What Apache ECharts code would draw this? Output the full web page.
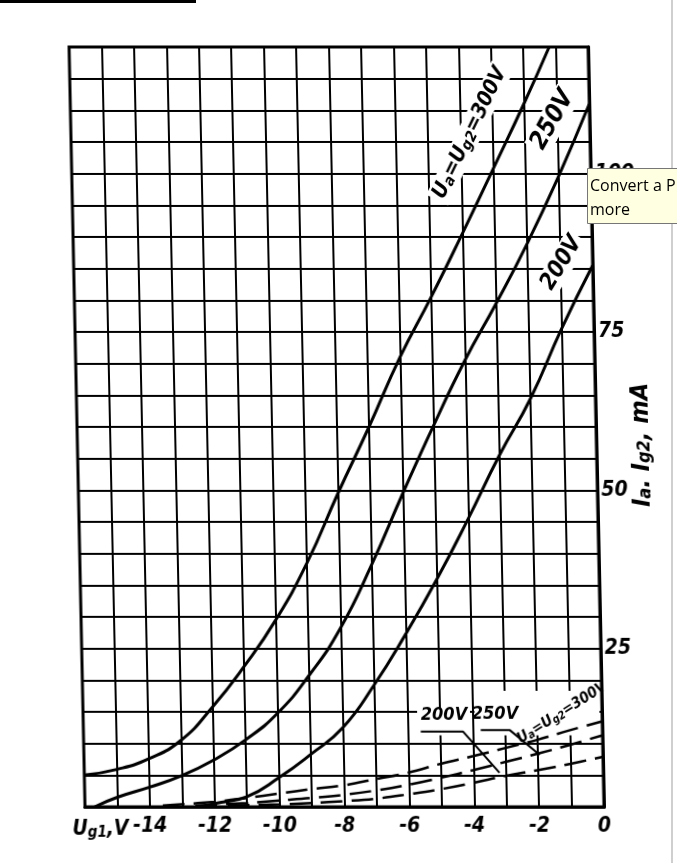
<!DOCTYPE html>
<html><head><meta charset="utf-8">
<script src="https://cdn.jsdelivr.net/npm/echarts@6/dist/echarts.min.js"></script>
<style>
html,body{margin:0;padding:0;background:#fff;overflow:hidden;}
#chart{position:absolute;left:0;top:0;width:677px;height:863px;transform:skewX(1.2deg);transform-origin:0 807px;}
#overlay{position:absolute;left:0;top:0;width:677px;height:863px;pointer-events:none;}
</style></head><body>
<div id="chart"></div><div id="overlay"></div>
<script>
// ---- data (Ug1 in V, current in mA) ----
const xTickLabels = [-14, -12, -10, -8, -6, -4, -2, 0];
const yTickLabels = [25, 50, 75, 100];

// anode current Ia, Ua = Ug2 = 300 V / 250 V / 200 V
const ia300 = [[-16,5.0],[-15,5.9],[-14,7.6],[-13,10.5],[-12,15.8],[-11,22.2],[-10,29.5],[-9,38.5],[-8,49.5],[-7,60],[-6,71],[-5,80.5],[-4,90.5],[-3,100.8],[-2,111.2],[-1.2,120]];
const ia250 = [[-15.7,0],[-15,1.5],[-14,3.1],[-13,4.9],[-12,7.4],[-11,10.6],[-10,14.8],[-9,20.8],[-8,28.3],[-7,38.3],[-6,49.5],[-5,60.3],[-4,70.5],[-3,79.5],[-2,89],[-1,99.5],[0,111]];
const ia200 = [[-12.4,0],[-12,0.5],[-11,1.6],[-10,4.6],[-9,8.3],[-8,12.5],[-7,19.3],[-6,27.3],[-5,36],[-4,45.5],[-3,55.5],[-2,64.5],[-1,75.5],[0,85.5]];

// screen current Ig2 (dashed)
const ig300 = [[-13.6,0.2],[-12,0.8],[-11,1.4],[-10,2.1],[-9,2.8],[-8,3.4],[-7,4.4],[-6,5.4],[-5,6.8],[-4,8.0],[-3,9.3],[-2,10.6],[-1,12.1],[0,13.5]];
const ig250 = [[-12.6,0.2],[-11,0.6],[-10,1.0],[-9,1.4],[-8,1.9],[-7,2.6],[-6,3.5],[-5,4.6],[-4,5.8],[-3,7.1],[-2,8.4],[-1,9.8],[0,11.3]];
const ig200 = [[-11.6,0.2],[-10,0.4],[-9,0.6],[-8,0.9],[-7,1.3],[-6,2.0],[-5,2.8],[-4,3.8],[-3,4.9],[-2,5.8],[-1,6.8],[0,7.9]];

// leader lines of the Ig2 labels
const lead200 = [[-5.6,11.9],[-4.3,11.9],[-3.2,5.4]];
const lead250 = [[-3.75,12.1],[-2.85,12.1],[-1.95,8.2]];

const F = "'Liberation Sans Narrow','DejaVu Sans Condensed','Liberation Sans',sans-serif";
const lab = {color:'#000', fontFamily:F, fontStyle:'italic', fontWeight:'bold'};

function solid(name, data){
  return {name, type:'line', data, symbol:'none', smooth:0.5, z:3,
    lineStyle:{color:'#000', width:3}};
}
function dashed(name, data){
  return {name, type:'line', data, symbol:'none', smooth:0.4, z:3,
    lineStyle:{color:'#000', width:2.5, type:[22,9]}};
}
function leader(name, data){
  return {name, type:'line', data, symbol:'none', z:3, lineStyle:{color:'#000', width:2}};
}

const chart = echarts.init(document.getElementById('chart'), null, {renderer:'canvas'});
chart.setOption({
  animation:false,
  backgroundColor:'transparent',
  grid:{left:85, right:73, top:47, bottom:56, show:true, borderColor:'#000', borderWidth:3},
  xAxis:{type:'value', min:-16, max:0, interval:1,
    axisLine:{show:true, lineStyle:{color:'#000', width:3}},
    axisTick:{show:false},
    splitLine:{show:true, lineStyle:{color:'#000', width:2}},
    axisLabel:Object.assign({fontSize:21, margin:9,
      formatter:v => xTickLabels.includes(v) ? (v < 0 ? '-' + Math.abs(v) : String(v)) : ''}, lab)
  },
  yAxis:{type:'value', position:'right', min:0, max:120, interval:5,
    axisLine:{show:true, lineStyle:{color:'#000', width:3}},
    axisTick:{show:false},
    splitLine:{show:true, lineStyle:{color:'#000', width:2}},
    axisLabel:Object.assign({fontSize:21, margin:4, padding:[0,0,14,0],
      formatter:v => yTickLabels.includes(v) ? String(v) : ''}, lab)
  },
  series:[
    solid('Ia 300V', ia300), solid('Ia 250V', ia250), solid('Ia 200V', ia200),
    dashed('Ig2 300V', ig300), dashed('Ig2 250V', ig250), dashed('Ig2 200V', ig200),
    leader('lead 200V', lead200), leader('lead 250V', lead250)
  ]
});

const toPx = p => chart.convertToPixel({gridIndex:0}, p);
const a1 = toPx([-5.7, 15.4]), b1 = toPx([-4.07, 11.3]);
const a2 = toPx([-3.93, 18.3]), b2 = toPx([-0.08, 11.3]);
const deg = Math.PI/180;
const sub = {fontSize:15, fontFamily:F, fontStyle:'italic', fontWeight:'bold', fill:'#000', padding:[7,0,0,0]};
const main = {fontSize:21, fontFamily:F, fontStyle:'italic', fontWeight:'bold', fill:'#000'};

chart.setOption({graphic:[
  {type:'rect', id:'erase1', z:1, shape:{x:a1[0], y:a1[1], width:b1[0]-a1[0], height:b1[1]-a1[1]}, style:{fill:'#fff'}},
  {type:'rect', id:'erase2', z:1, shape:{x:a2[0], y:a2[1], width:b2[0]-a2[0], height:b2[1]-a2[1]}, style:{fill:'#fff'}},
  {type:'text', id:'t300', z:10, x:484, y:133, rotation:63*deg,
    style:{text:'{m|U}{s|a}{m|=U}{s|g2}{m|=300V}', rich:{m:main, s:sub}, align:'center', verticalAlign:'middle',
      backgroundColor:'#fff', padding:[1,3,1,3]}},
  {type:'text', id:'t250', z:10, x:567, y:120, rotation:60*deg,
    style:Object.assign({text:'250V', align:'center', verticalAlign:'middle', backgroundColor:'#fff', padding:[1,2,1,2]}, main, {fontSize:25})},
  {type:'text', id:'t200', z:10, x:573, y:263, rotation:58*deg,
    style:Object.assign({text:'200V', align:'center', verticalAlign:'middle', backgroundColor:'#fff', padding:[1,2,1,2]}, main, {fontSize:23})},
  {type:'text', id:'b200', z:10, x:446, y:715,
    style:Object.assign({text:'200V', align:'center', verticalAlign:'middle'}, main, {fontSize:18})},
  {type:'text', id:'b250', z:10, x:497, y:714,
    style:Object.assign({text:'250V', align:'center', verticalAlign:'middle'}, main, {fontSize:18})},
  {type:'text', id:'b300', z:10, x:564, y:713, rotation:32*deg,
    style:{text:'{m|U}{s|a}{m|=U}{s|g2}{m|=300V}', rich:{m:Object.assign({}, main, {fontSize:15}), s:Object.assign({}, sub, {fontSize:11, padding:[5,0,0,0]})},
      align:'center', verticalAlign:'middle'}},
  {type:'text', id:'ytitle', z:10, x:649, y:445, rotation:90*deg,
    style:{text:'{m|I}{s|a}{m|. I}{s|g2}{m|, mA}', rich:{m:Object.assign({}, main, {fontSize:25}), s:Object.assign({}, sub, {fontSize:18})},
      align:'center', verticalAlign:'middle'}},
  {type:'text', id:'xtitle', z:10, x:100, y:830,
    style:{text:'{m|U}{s|g1}{m|,V}', rich:{m:main, s:sub}, align:'center', verticalAlign:'middle'}}
]});

// overlay: items of the screenshot that are not part of the scanned sheet
const ov = echarts.init(document.getElementById('overlay'), null, {renderer:'canvas'});
ov.setOption({animation:false, backgroundColor:'transparent', graphic:[
  {type:'rect', shape:{x:0, y:0, width:196, height:3}, style:{fill:'#000'}},
  {type:'line', shape:{x1:672, y1:0, x2:672, y2:863}, style:{stroke:'#cfcfcf', lineWidth:2}},
  {type:'rect', z:20, shape:{x:587.5, y:168.5, width:100, height:55}, style:{fill:'#FFFFE1', stroke:'#767676', lineWidth:1}},
  {type:'text', z:21, x:590, y:186, style:{text:'Convert a P', fontFamily:"'Open Sans','Noto Sans',sans-serif", fontSize:16, fill:'#000', verticalAlign:'middle'}},
  {type:'text', z:21, x:590, y:210, style:{text:'more', fontFamily:"'Open Sans','Noto Sans',sans-serif", fontSize:16, fill:'#000', verticalAlign:'middle'}}
]});
</script>
</body></html>
